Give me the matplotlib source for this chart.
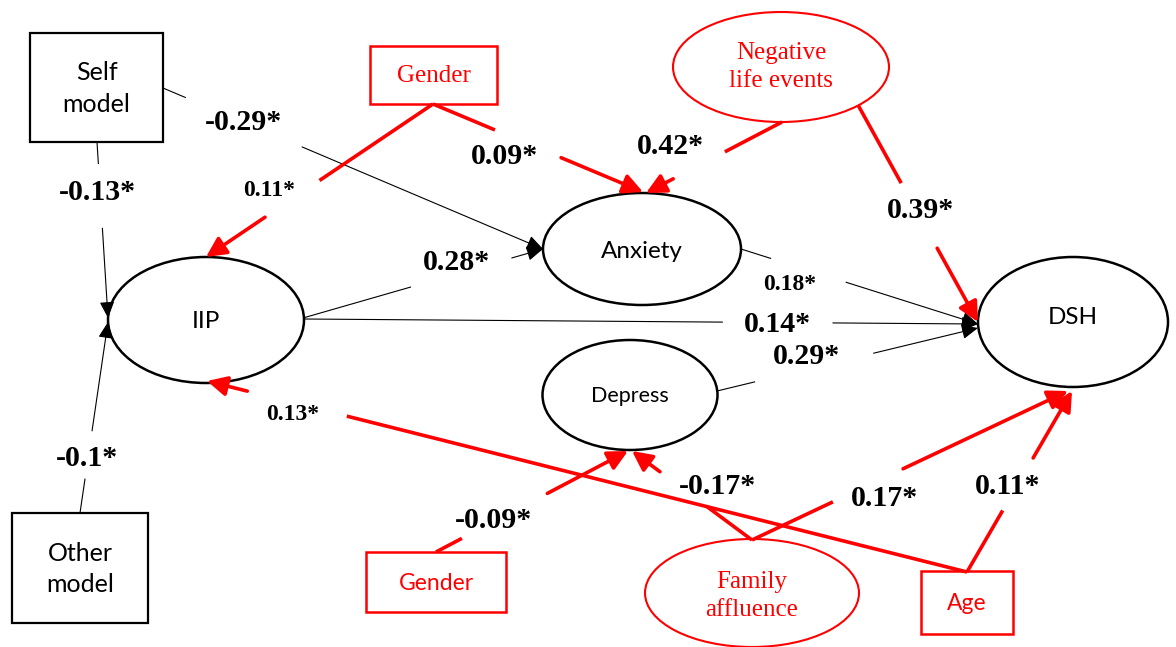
import numpy as np
import matplotlib.pyplot as plt
from matplotlib.patches import Ellipse, Rectangle, FancyArrowPatch

# node labels
box_nodes = ['Self\nmodel', 'Other\nmodel']
latent_nodes = ['IIP', 'Anxiety', 'Depress', 'DSH']
cov_box_nodes = ['Gender', 'Gender', 'Age']
cov_oval_nodes = ['Negative\nlife events', 'Family\naffluence']

# structural paths (black) and covariate paths (red), with coefficients
main_src = ['self', 'self', 'other', 'iip', 'iip', 'anx', 'dep']
main_dst = ['anx', 'iip', 'iip', 'anx', 'dsh', 'dsh', 'dsh']
main_coef = ['-0.29*', '-0.13*', '-0.1*', '0.28*', '0.14*', '0.18*', '0.29*']

cov_src = ['gen1', 'gen1', 'nle', 'nle', 'age', 'age', 'fam', 'fam', 'gen2']
cov_dst = ['iip', 'anx', 'anx', 'dsh', 'iip', 'dsh', 'dep', 'dsh', 'dep']
cov_coef = ['0.11*', '0.09*', '0.42*', '0.39*', '0.13*', '0.11*', '-0.17*', '0.17*', '-0.09*']

# ---- layout (pixel space) ----
RED = '#ff0000'
W, H = 1176, 647
fig = plt.figure(figsize=(W / 100, H / 100), dpi=100)
ax = fig.add_axes([0, 0, 1, 1])
ax.set_xlim(0, W)
ax.set_ylim(H, 0)
ax.axis('off')

sans = 'Lato'
serif = 'Liberation Serif'

# boxes: (x, y, w, h)
boxes = {'self': (30, 33, 133, 109), 'other': (12, 513, 136, 110)}
for (k, r), lab in zip(boxes.items(), box_nodes):
    ax.add_patch(Rectangle(r[:2], r[2], r[3], fill=False, ec='black', lw=1.6))
    ax.text(r[0] + r[2] / 2, r[1] + r[3] / 2 + 1, lab, ha='center', va='center',
            fontsize=18, family=sans, linespacing=1.45)

# latent ellipses: (cx, cy, w, h) and label offsets
ovals = {'iip': (206, 320, 196, 126), 'anx': (642, 249, 198, 112),
         'dep': (630, 395, 175, 110), 'dsh': (1073, 322, 190, 130)}
label_dy = {'iip': 2, 'anx': 2, 'dep': 1, 'dsh': -5}
for (k, e), lab in zip(ovals.items(), latent_nodes):
    ax.add_patch(Ellipse(e[:2], e[2], e[3], fill=False, ec='black', lw=1.8))
    fs = 15.5 if k == 'dep' else 17.5
    ax.text(e[0], e[1] + label_dy[k], lab, ha='center', va='center', fontsize=fs, family=sans)

# covariate boxes
rboxes = {'gen1': (370, 46, 127, 58), 'gen2': (366, 552, 140, 60), 'age': (921, 571, 92, 63)}
rfonts = {'gen1': serif, 'gen2': sans, 'age': sans}
for (k, r), lab in zip(rboxes.items(), cov_box_nodes):
    ax.add_patch(Rectangle(r[:2], r[2], r[3], fill=False, ec=RED, lw=1.8))
    ax.text(r[0] + r[2] / 2, r[1] + r[3] / 2 + 1, lab, ha='center', va='center',
            fontsize=18 if k == 'gen1' else 16.5, family=rfonts[k], color=RED)

# covariate ovals
rovals = {'nle': (781, 67, 216, 110), 'fam': (752, 593, 214, 108)}
label_dy_r = {'nle': 0, 'fam': 3}
for (k, e), lab in zip(rovals.items(), cov_oval_nodes):
    ax.add_patch(Ellipse(e[:2], e[2], e[3], fill=False, ec=RED, lw=1.5))
    ax.text(e[0], e[1] + label_dy_r[k], lab, ha='center', va='center', fontsize=18,
            family=serif, color=RED, linespacing=1.3)

# edge geometry: start, end, gap fractions, label position, label size
main_geom = [
    ((163, 88), (543, 249), 0.06, 0.366, (243, 122), 21.5),
    ((97, 142), (108, 318), 0.125, 0.49, (97, 193), 21.5),
    ((80, 513), (108, 322), 0.18, 0.43, (87, 458), 21.5),
    ((303, 318), (543, 249), 0.45, 0.87, (456, 263), 21.5),
    ((303, 319), (978, 324), 0.622, 0.785, (777, 324), 21.5),
    ((741, 249), (978, 324), 0.127, 0.443, (790, 284), 17),
    ((717, 391), (978, 328), 0.146, 0.60, (806, 357), 21.5),
]
cov_geom = [
    ((433, 104), (206, 257), 0.50, 0.74, (269, 190), 17),
    ((433, 104), (643, 192), 0.295, 0.61, (505, 157), 21.5),
    ((782, 122), (646, 193), 0.42, 0.80, (670, 146), 21.5),
    ((858, 105), (978, 322), 0.36, 0.66, (921, 211), 21.5),
    ((967, 572), (207, 381), 0.816, 0.947, (293, 415), 17),
    ((967, 572), (1072, 391), 0.34, 0.63, (1008, 486), 21.5),
    ((752, 540), (632, 451), 0.375, 0.767, (718, 487), 21.5),
    ((752, 540), (1068, 391), 0.256, 0.478, (885, 499), 21.5),
    ((436, 552), (628, 451), 0.135, 0.58, (493, 520), 21.5),
]


def edge(p0, p1, t0, t1, color, lw, hl, hw):
    p0 = np.array(p0, float)
    p1 = np.array(p1, float)
    a = p0 + t0 * (p1 - p0)
    b = p0 + t1 * (p1 - p0)
    ax.plot([p0[0], a[0]], [p0[1], a[1]], color=color, lw=lw, solid_capstyle='butt')
    ax.add_patch(FancyArrowPatch(tuple(b), tuple(p1),
                                 arrowstyle=f'-|>,head_length={hl},head_width={hw}',
                                 mutation_scale=10, color=color, lw=lw,
                                 shrinkA=0, shrinkB=0))


for g, lab in zip(main_geom, main_coef):
    edge(g[0], g[1], g[2], g[3], 'black', 0.8, 1.0, 0.45)
    ax.text(*g[4], lab, ha='center', va='center', fontsize=g[5],
            family=serif, weight='bold')

for g, lab in zip(cov_geom, cov_coef):
    edge(g[0], g[1], g[2], g[3], RED, 2.6, 1.2, 0.6)
    ax.text(*g[4], lab, ha='center', va='center', fontsize=g[5],
            family=serif, weight='bold')

fig.savefig('out.png', dpi=100)
